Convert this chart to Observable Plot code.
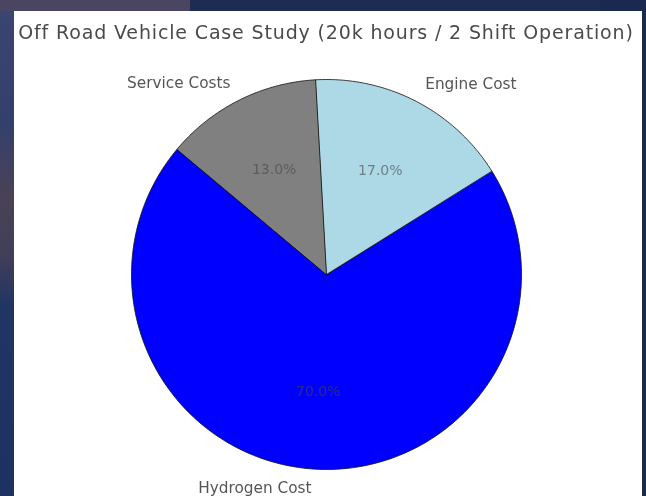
<!DOCTYPE html>
<html>
<head>
<meta charset="utf-8">
<script src="https://cdn.jsdelivr.net/npm/d3@7"></script>
<script src="https://cdn.jsdelivr.net/npm/@observablehq/plot@0.6"></script>
<style>
  html, body { margin: 0; padding: 0; width: 646px; height: 496px; overflow: hidden; }
  body {
    background: linear-gradient(180deg, #3a4670 0%, #34406c 25%, #4a4256 40%, #403e5a 52%, #1f3563 62%, #1c3260 100%);
    font-family: "DejaVu Sans", sans-serif;
  }
  #topleft { position: absolute; left: 0; top: 0; width: 190px; height: 11px; background: #4a4560; }
  #topbg { position: absolute; left: 190px; top: 0; width: 456px; height: 11px; background: #1f2c52; }
  #rightbg { position: absolute; left: 600px; top: 0; width: 46px; height: 496px; background: #1b2850; }
  #panel {
    position: absolute; left: 14px; top: 11px; width: 628px; height: 485px;
    background: #fff; filter: blur(0.6px);
  }
  #title {
    height: 36px; line-height: 43px; text-align: center; font-size: 19px; letter-spacing: 0.85px;
    color: #4a4a4a; white-space: nowrap; padding-right: 4px;
  }
  #chart svg { display: block; }
</style>
</head>
<body>
<div id="topleft"></div>
<div id="topbg"></div>
<div id="rightbg"></div>
<div id="panel">
  <div id="title">Off Road Vehicle Case Study (20k hours / 2 Shift Operation)</div>
  <div id="chart"></div>
</div>
<script>
const categories = ["Hydrogen Cost", "Engine Cost", "Service Costs"];
const shares = [70, 17, 13];
const colors = ["#0000ff", "#add8e6", "#808080"];
const startAngle = 140;

const total = d3.sum(shares);
let acc = startAngle;
const wedges = [], labels = [], pcts = [];
categories.forEach((name, i) => {
  const span = shares[i] / total * 360;
  const a0 = acc, a1 = acc + span;
  acc = a1;
  wedges.push({name, x: 0, y: 0});
  const n = Math.max(2, Math.ceil(span));
  for (let k = 0; k <= n; k++) {
    const a = (a0 + (a1 - a0) * k / n) * Math.PI / 180;
    wedges.push({name, x: Math.cos(a), y: Math.sin(a)});
  }
  const m = (a0 + a1) / 2 * Math.PI / 180;
  labels.push({name, x: 1.1 * Math.cos(m), y: 1.1 * Math.sin(m)});
  pcts.push({text: (shares[i] / total * 100).toFixed(1) + "%", x: 0.6 * Math.cos(m), y: 0.6 * Math.sin(m)});
});

const W = 628, H = 449, R = 195, cx = 312, cy = 227;
const chart = Plot.plot({
  width: W, height: H,
  margin: 0,
  style: {background: "transparent", fontFamily: "DejaVu Sans, sans-serif"},
  x: {domain: [-cx / R, (W - cx) / R], range: [0, W], axis: null},
  y: {domain: [-(H - cy) / R, cy / R], range: [H, 0], axis: null},
  color: {domain: categories, range: colors},
  marks: [
    Plot.line(wedges, {x: "x", y: "y", z: "name", fill: "name", stroke: "#111", strokeWidth: 0.8, curve: "linear-closed"}),
    Plot.text(labels.filter(d => d.x < 0), {x: "x", y: "y", text: "name", textAnchor: "end", fontSize: 15.3, fill: "#555"}),
    Plot.text(labels.filter(d => d.x >= 0), {x: "x", y: "y", text: "name", textAnchor: "start", fontSize: 15.3, fill: "#555"}),
    Plot.text(pcts, {x: "x", y: "y", text: "text", fontSize: 14, fill: "#444", fillOpacity: 0.6})
  ]
});
document.getElementById("chart").appendChild(chart);
</script>
</body>
</html>
